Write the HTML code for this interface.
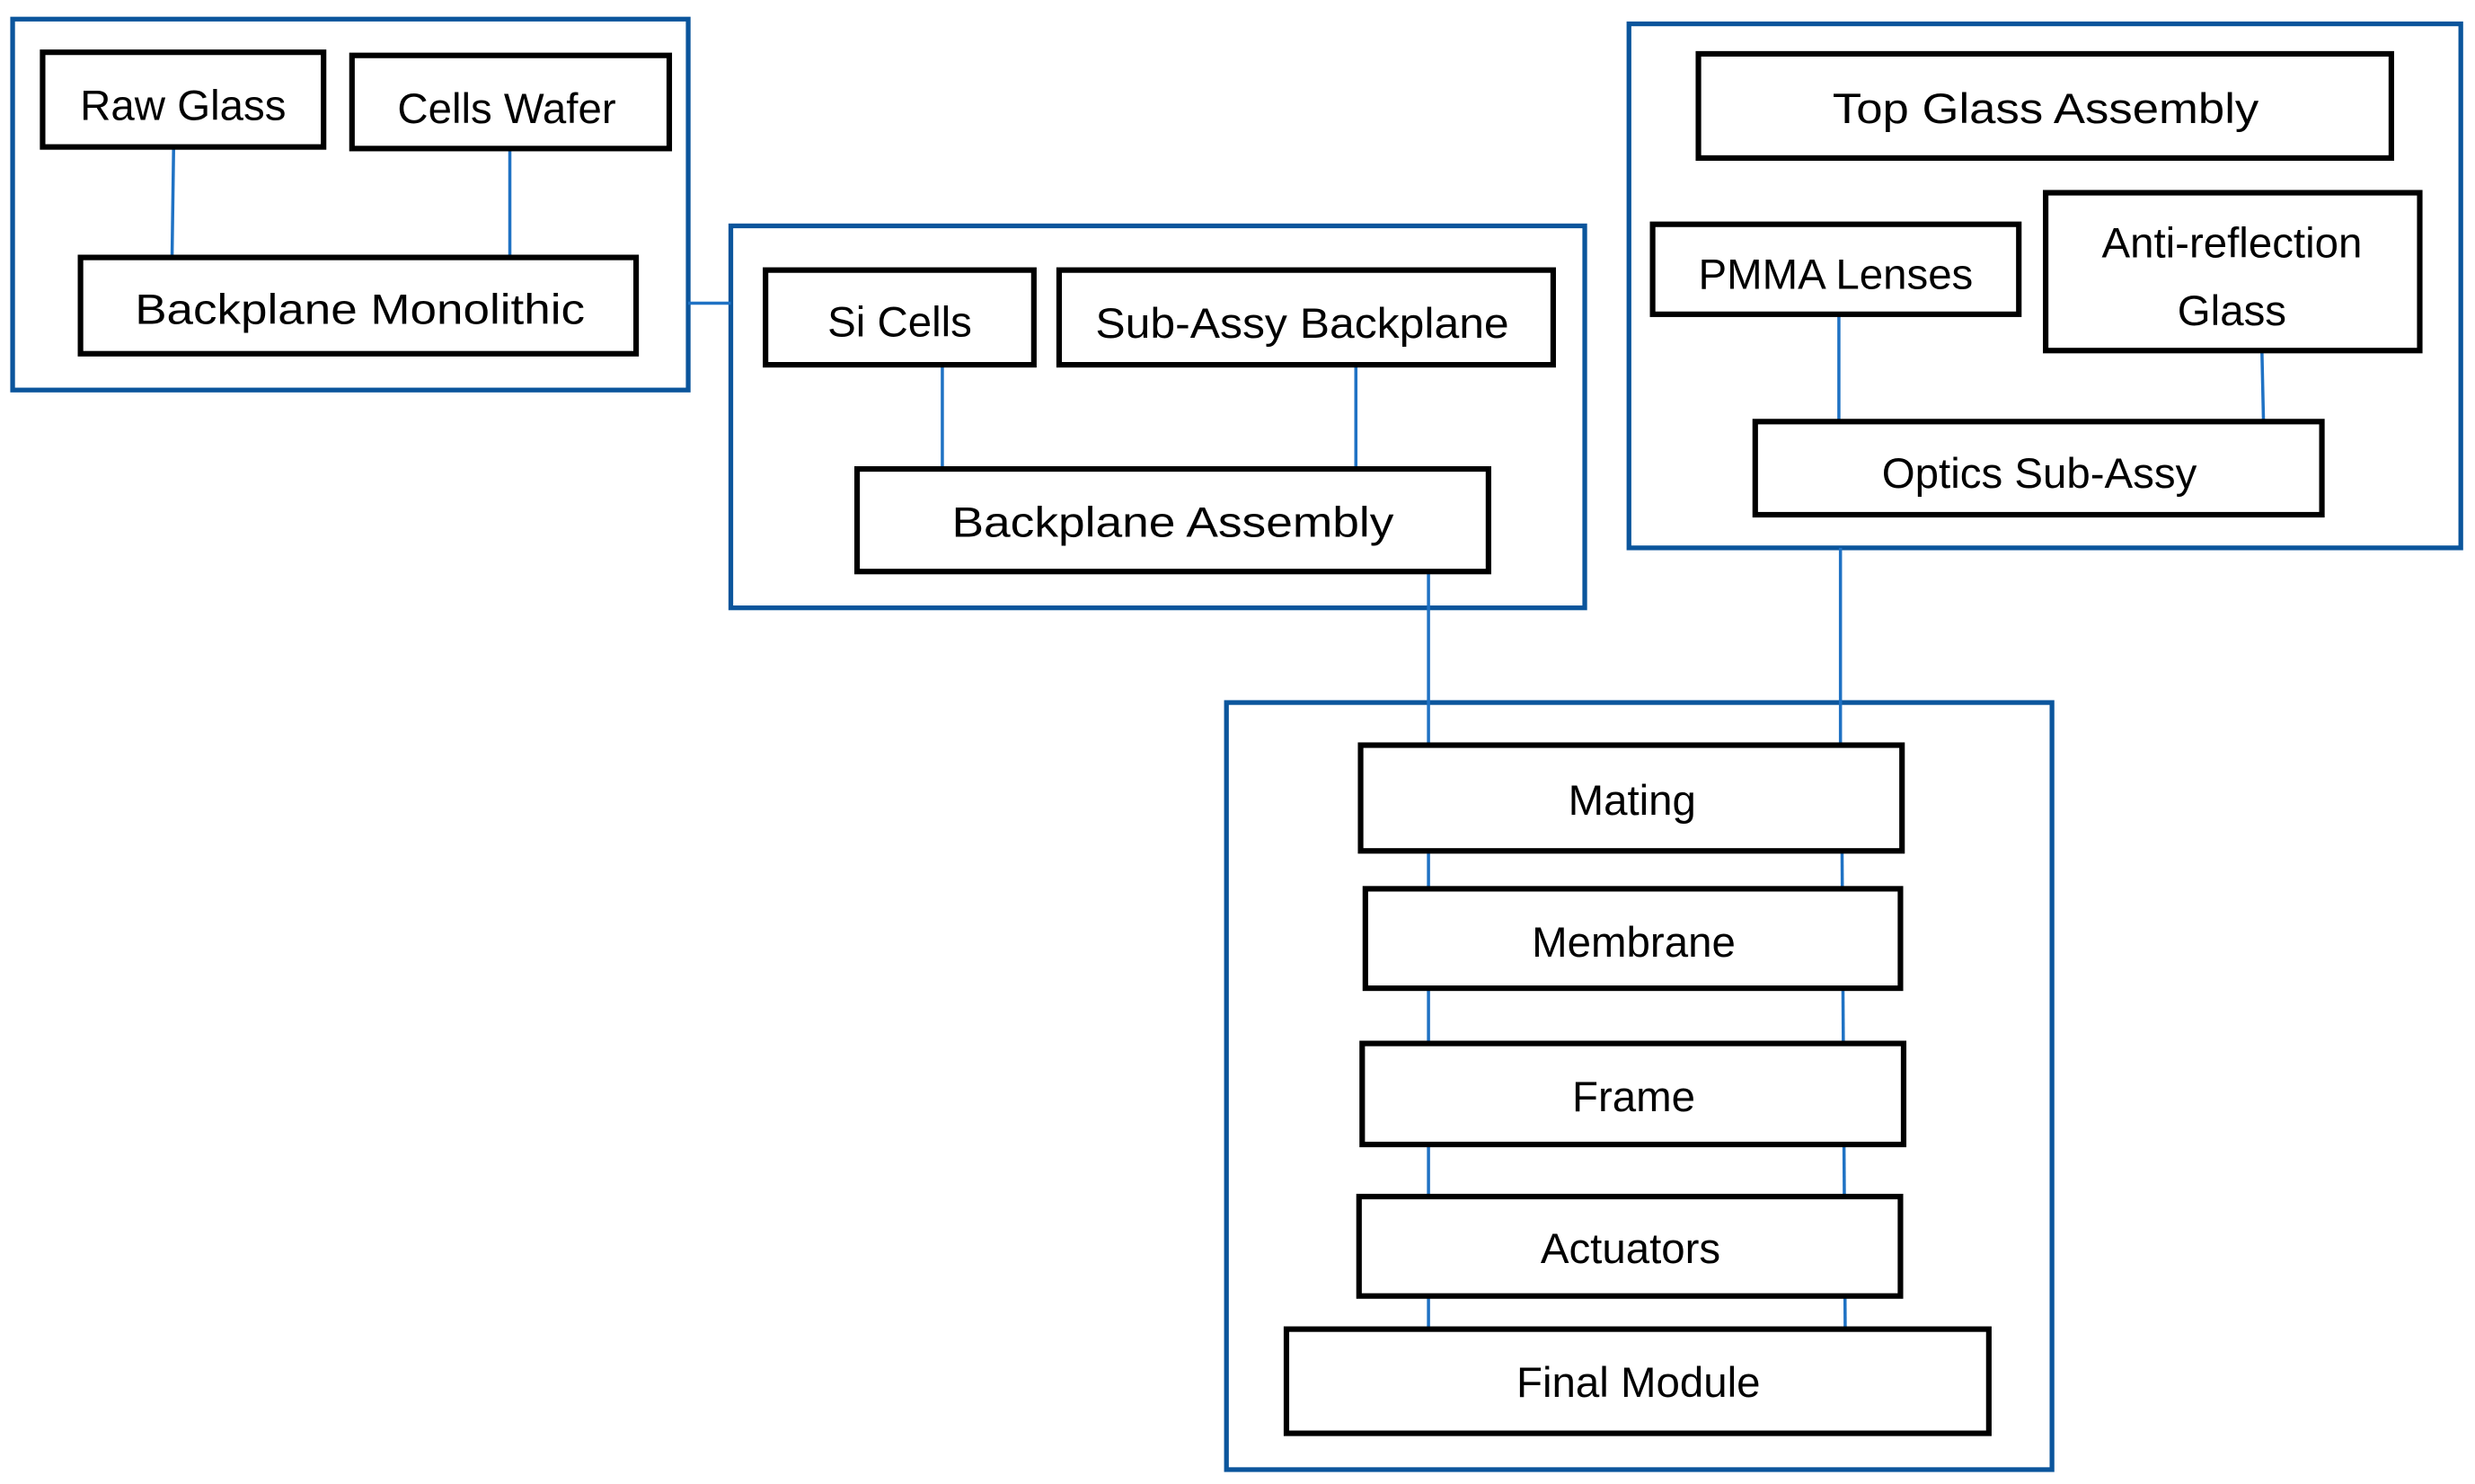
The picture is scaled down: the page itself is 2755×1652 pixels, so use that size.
<!DOCTYPE html>
<html><head><meta charset="utf-8"><style>html,body{margin:0;padding:0;background:#fff}svg{display:block}</style></head>
<body>
<svg width="2755" height="1652" viewBox="0 0 1568 940" xmlns="http://www.w3.org/2000/svg">
<rect width="1568" height="940" fill="#fff"/>
<g fill="none" stroke="#0b559c" stroke-width="3">
<rect x="8" y="12" width="428" height="235"/>
<rect x="463" y="143" width="541" height="242"/>
<rect x="1032" y="15" width="527" height="332"/>
<rect x="777" y="445" width="523" height="486"/>
</g>
<g stroke="#1f72c4" stroke-width="2">
<line x1="110" y1="93" x2="109" y2="163"/>
<line x1="323" y1="94" x2="323" y2="163"/>
<line x1="436" y1="192" x2="463" y2="192"/>
<line x1="597" y1="231" x2="597" y2="297"/>
<line x1="859" y1="231" x2="859" y2="297"/>
<line x1="905" y1="362" x2="905" y2="472"/>
<line x1="1165" y1="199" x2="1165" y2="267"/>
<line x1="1433" y1="222" x2="1434" y2="267"/>
<line x1="1166" y1="347" x2="1166" y2="472"/>
<line x1="905" y1="539" x2="905" y2="842"/>
<line x1="1167" y1="539" x2="1169" y2="842"/>
</g>
<g fill="#fff" stroke="#000" stroke-width="3.5">
<rect x="27" y="33" width="178" height="60"/>
<rect x="223" y="35" width="201" height="59"/>
<rect x="51" y="163" width="352" height="61"/>
<rect x="485" y="171" width="170" height="60"/>
<rect x="671" y="171" width="313" height="60"/>
<rect x="543" y="297" width="400" height="65"/>
<rect x="1076" y="34" width="439" height="66"/>
<rect x="1047" y="142" width="232" height="57"/>
<rect x="1296" y="122" width="237" height="100"/>
<rect x="1112" y="267" width="359" height="59"/>
<rect x="862" y="472" width="343" height="67"/>
<rect x="865" y="563" width="339" height="63"/>
<rect x="863" y="661" width="343" height="64"/>
<rect x="861" y="758" width="343" height="63"/>
<rect x="815" y="842" width="445" height="66"/>
</g>
<g font-family="Liberation Sans, sans-serif" font-size="27" text-anchor="middle" fill="#000">
<text x="116" y="76">Raw Glass</text>
<text x="321" y="78">Cells Wafer</text>
<text x="228" y="205" textLength="285" lengthAdjust="spacingAndGlyphs">Backplane Monolithic</text>
<text x="570" y="213">Si Cells</text>
<text x="825" y="214" textLength="262" lengthAdjust="spacingAndGlyphs">Sub-Assy Backplane</text>
<text x="743" y="340" textLength="280" lengthAdjust="spacingAndGlyphs">Backplane Assembly</text>
<text x="1296" y="78" textLength="270" lengthAdjust="spacingAndGlyphs">Top Glass Assembly</text>
<text x="1163" y="183">PMMA Lenses</text>
<text x="1414" y="163">Anti-reflection</text>
<text x="1414" y="206">Glass</text>
<text x="1292" y="309">Optics Sub-Assy</text>
<text x="1034" y="516">Mating</text>
<text x="1035" y="606">Membrane</text>
<text x="1035" y="704">Frame</text>
<text x="1033" y="800">Actuators</text>
<text x="1038" y="885">Final Module</text>
</g>
</svg>
</body></html>
